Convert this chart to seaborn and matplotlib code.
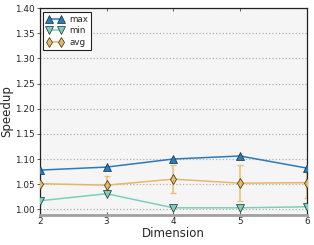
import numpy as np
import pandas as pd
import seaborn as sns
import matplotlib
matplotlib.use("Agg")
import matplotlib.pyplot as plt

# values
dimensions = [2, 3, 4, 5, 6]
speedup_max = [1.078, 1.084, 1.100, 1.106, 1.082]
speedup_min = [1.017, 1.031, 1.003, 1.003, 1.005]
speedup_avg = [1.051, 1.048, 1.060, 1.052, 1.053]
avg_err = [0.030, 0.018, 0.028, 0.036, 0.030]

y_ticks = [1.00, 1.05, 1.10, 1.15, 1.20, 1.25, 1.30, 1.35, 1.40]

sns.set_style("whitegrid")
plt.rcParams['font.family'] = ['DejaVu Sans']

fig = plt.figure(figsize=(3.14, 2.45), dpi=100)
ax = fig.add_axes([0.127, 0.123, 0.850, 0.844])
ax.set_facecolor("#f5f5f5")

df = pd.DataFrame({"dim": dimensions, "max": speedup_max,
                   "min": speedup_min, "avg": speedup_avg})

# avg error bars first so markers sit on top
ax.errorbar(dimensions, speedup_avg, yerr=avg_err, fmt="none",
            ecolor="#e8c27a", elinewidth=1.2, capsize=2.5, capthick=1.0, zorder=2)

sns.lineplot(data=df, x="dim", y="max", ax=ax, color="#2b7bba", marker="^",
             markersize=5.5, markeredgecolor="#1a2a3a", markeredgewidth=0.5,
             linewidth=1.1, label="max", zorder=4)
sns.lineplot(data=df, x="dim", y="min", ax=ax, color="#7fcdbb", marker="v",
             markersize=5.5, markeredgecolor="#1a2a3a", markeredgewidth=0.5,
             linewidth=1.1, label="min", zorder=4)
sns.lineplot(data=df, x="dim", y="avg", ax=ax, color="#e3b868", marker="d",
             markersize=5.5, markeredgecolor="#3a2a10", markeredgewidth=0.5,
             linewidth=1.1, label="avg", zorder=4)

ax.set_xlim(2, 6)
ax.set_ylim(0.989, 1.40)
ax.set_xticks(dimensions)
ax.set_yticks(y_ticks)
ax.set_yticklabels([f"{v:.2f}" for v in y_ticks])

ax.grid(axis="x", visible=False)
ax.grid(axis="y", color="#b0b0b0", linestyle=":", linewidth=0.9)

for side in ["left", "top", "right"]:
    ax.spines[side].set_visible(True)
    ax.spines[side].set_color("#222222")
    ax.spines[side].set_linewidth(0.9)
ax.spines["bottom"].set_color("#a0a0a0")
ax.spines["bottom"].set_linewidth(2.0)

ax.tick_params(axis="both", labelsize=6.4, length=2.5, width=0.6, pad=1.2,
               color="#444444")
ax.tick_params(axis="x", top=True, direction="in", bottom=True)
ax.tick_params(axis="y", left=True, direction="out")

ax.set_xlabel("Dimension", fontsize=8.5, labelpad=1)
ax.set_ylabel("Speedup", fontsize=8.5)
ax.yaxis.set_label_coords(-0.098, 0.5)

leg = ax.legend(loc="upper left", fontsize=6.3, numpoints=2, handlelength=2.0,
                handletextpad=0.6, borderpad=0.35, labelspacing=0.3,
                fancybox=False, framealpha=1, borderaxespad=0.4)
leg.get_frame().set_edgecolor("#222222")
leg.get_frame().set_linewidth(0.8)

fig.savefig("out.png", dpi=100)
